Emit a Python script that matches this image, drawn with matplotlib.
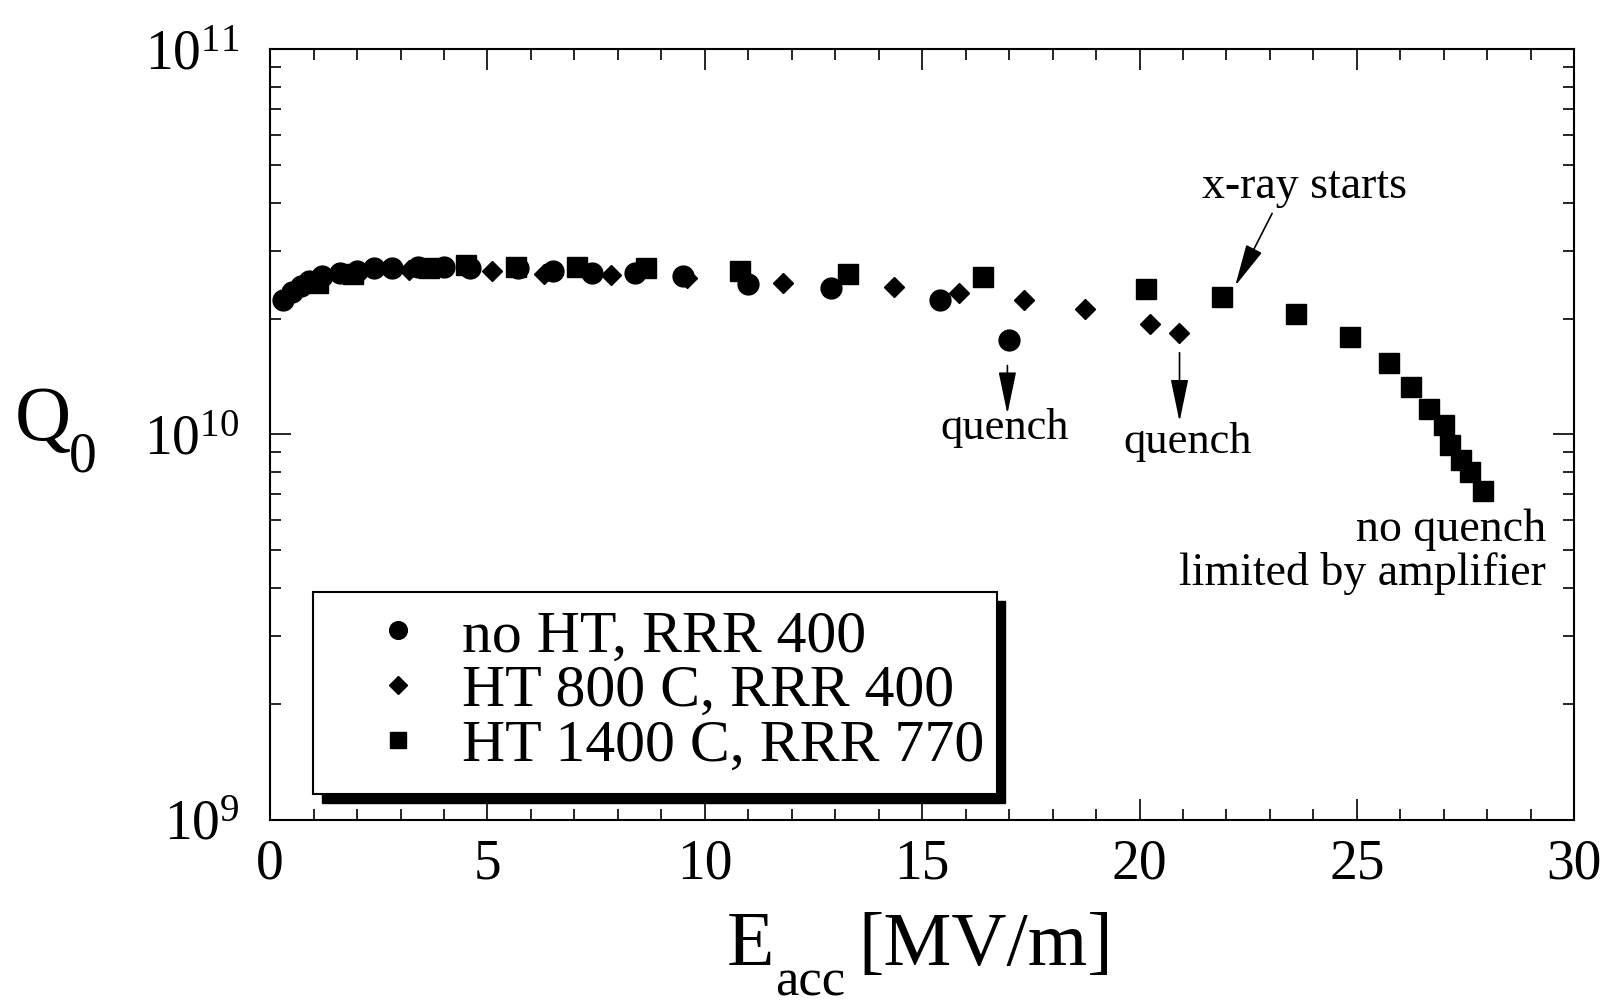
import numpy as np
import matplotlib
matplotlib.use('Agg')
import matplotlib.pyplot as plt
from matplotlib.patches import Rectangle
from matplotlib.ticker import MultipleLocator, LogLocator

plt.rcParams['font.family'] = ['Liberation Serif', 'DejaVu Serif']
plt.rcParams['mathtext.fontset'] = 'custom'
plt.rcParams['mathtext.rm'] = 'Liberation Serif'
plt.rcParams['mathtext.it'] = 'Liberation Serif:italic'

# no HT, RRR 400
e_noht = [0.3, 0.5, 0.7, 0.9, 1.2, 1.6, 2.0, 2.4, 2.8, 3.4, 4.0, 4.6,
          5.7, 6.5, 7.4, 8.4, 9.5, 11.0, 12.9, 15.4, 17.0]
q_noht = [2.24e10, 2.34e10, 2.43e10, 2.51e10, 2.58e10, 2.63e10, 2.66e10, 2.70e10,
          2.71e10, 2.73e10, 2.73e10, 2.71e10, 2.71e10, 2.66e10, 2.63e10, 2.63e10,
          2.58e10, 2.46e10, 2.40e10, 2.23e10, 1.76e10]

# HT 800 C, RRR 400
e_ht800 = [3.2, 5.1, 6.3, 7.85, 9.6, 11.8, 14.35, 15.85, 17.35, 18.75, 20.25, 20.9]
q_ht800 = [2.68e10, 2.66e10, 2.61e10, 2.60e10, 2.55e10, 2.47e10, 2.41e10, 2.33e10,
           2.24e10, 2.12e10, 1.94e10, 1.83e10]

# HT 1400 C, RRR 770
e_ht1400 = [1.1, 1.9, 3.65, 4.5, 5.65, 7.05, 8.65, 10.8, 13.3, 16.4, 20.15, 21.9,
            23.6, 24.85, 25.75, 26.25, 26.65, 27.0, 27.15, 27.4, 27.6, 27.9]
q_ht1400 = [2.48e10, 2.61e10, 2.71e10, 2.75e10, 2.73e10, 2.73e10, 2.70e10, 2.66e10,
            2.61e10, 2.57e10, 2.39e10, 2.27e10, 2.05e10, 1.79e10, 1.53e10, 1.33e10,
            1.165e10, 1.057e10, 0.94e10, 0.858e10, 0.80e10, 0.714e10]

labels = ['no HT, RRR 400', 'HT 800 C, RRR 400', 'HT 1400 C, RRR 770']

fig = plt.figure(figsize=(16.08, 10.08), dpi=100)
ax = fig.add_axes([0.168, 0.187, 0.811, 0.764])

h1, = ax.plot(e_noht, q_noht, 'o', color='k', ms=15, ls='none', label=labels[0])
h2, = ax.plot(e_ht800, q_ht800, 'D', color='k', ms=10.5, ls='none', label=labels[1])
h3, = ax.plot(e_ht1400, q_ht1400, 's', color='k', ms=14, ls='none', label=labels[2])

ax.set_yscale('log')
ax.set_xlim(0, 30)
ax.set_ylim(1e9, 1e11)
ax.xaxis.set_major_locator(MultipleLocator(5))
ax.xaxis.set_minor_locator(MultipleLocator(1))
ax.yaxis.set_major_locator(LogLocator(base=10))
ax.yaxis.set_minor_locator(LogLocator(base=10, subs=np.arange(2, 10)))

ax.tick_params(which='both', direction='in', top=True, right=True, width=1.2)
ax.tick_params(which='major', length=15)
ax.tick_params(which='minor', length=8)
ax.tick_params(axis='x', labelsize=40, pad=14)
ax.tick_params(axis='y', which='major', labelsize=40, pad=22)
ax.tick_params(axis='y', which='minor', labelleft=False)
for s in ax.spines.values():
    s.set_linewidth(1.5)

# axis titles, with the big subscripts of the original
fig.text(15 / 1608, 1 - 440 / 1008, 'Q', fontsize=56, ha='left', va='baseline')
fig.text(69 / 1608, 1 - 472 / 1008, '0', fontsize=40, ha='left', va='baseline')
fig.text(727 / 1608, 1 - 965 / 1008, 'E', fontsize=56, ha='left', va='baseline')
fig.text(775 / 1608, 1 - 995 / 1008, 'acc', fontsize=38, ha='left', va='baseline')
fig.text(858 / 1608, 1 - 965 / 1008, '[MV/m]', fontsize=55, ha='left', va='baseline')

# annotations
arrow = dict(arrowstyle='-|>,head_length=1.2,head_width=0.25', color='k', lw=1.2,
             mutation_scale=22, shrinkA=0, shrinkB=0)
ax.annotate('', xy=(16.96, 1.13e10), xytext=(16.96, 1.51e10), arrowprops=arrow)
ax.text(16.9, 1.04e10, 'quench', fontsize=32, ha='center', va='center')
ax.annotate('', xy=(20.92, 1.08e10), xytext=(20.92, 1.63e10), arrowprops=arrow)
ax.text(21.1, 0.955e10, 'quench', fontsize=32, ha='center', va='center')
ax.annotate('', xy=(22.2, 2.43e10), xytext=(23.05, 3.75e10), arrowprops=arrow)
ax.text(23.8, 4.4e10, 'x-ray starts', fontsize=33, ha='center', va='center')
ax.text(29.35, 4.95e9, 'no quench\nlimited by amplifier', fontsize=33,
        ha='right', va='center', multialignment='right', linespacing=1.04)

# legend box with a solid drop shadow
bx, by, bw, bh = 0.033, 0.033, 0.524, 0.262
ax.add_patch(Rectangle((bx + 0.0065, by - 0.011), bw, bh, transform=ax.transAxes,
                       facecolor='k', edgecolor='k', zorder=4))
ax.add_patch(Rectangle((bx, by), bw, bh, transform=ax.transAxes,
                       facecolor='white', edgecolor='k', lw=1.5, zorder=5))
leg = ax.legend(handles=[h1, h2, h3], loc='center left', bbox_to_anchor=(0.034, 0.166),
                frameon=False, fontsize=43, handlelength=1.0, handletextpad=0.57,
                labelspacing=0.0, borderpad=0.4, markerscale=0.85)
leg.set_zorder(6)

fig.savefig('out.png', dpi=100)
